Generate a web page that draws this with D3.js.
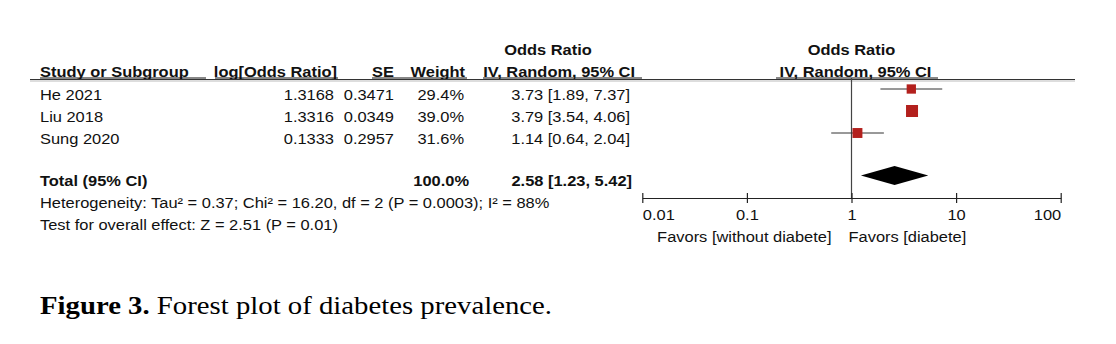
<!DOCTYPE html>
<html>
<head>
<meta charset="utf-8">
<script src="https://cdn.jsdelivr.net/npm/d3@7"></script>
<style>
  html, body { margin: 0; padding: 0; background: #fff; }
  svg { display: block; }
  .t { font-family: "Liberation Sans", Arial, sans-serif; font-size: 14.3px; fill: #111; }
  .b { font-weight: bold; }
  .cap { font-family: "Liberation Serif", "Times New Roman", serif; font-size: 25px; fill: #000; }
</style>
</head>
<body>
<svg id="chart" width="1116" height="344"></svg>
<script>
// Study-level data
const studies = ["He 2021", "Liu 2018", "Sung 2020"];
const logOR = [1.3168, 1.3316, 0.1333];
const seVals = [0.3471, 0.0349, 0.2957];
const weights = [29.4, 39.0, 31.6];
const oddsRatio = [3.73, 3.79, 1.14];
const ciLower = [1.89, 3.54, 0.64];
const ciUpper = [7.37, 4.06, 2.04];

// Pooled estimate
const totalLabel = "Total (95% CI)";
const totalWeight = 100.0;
const totalOR = 2.58;
const totalLower = 1.23;
const totalUpper = 5.42;
const heterogeneity = "Heterogeneity: Tau\u00B2 = 0.37; Chi\u00B2 = 16.20, df = 2 (P = 0.0003); I\u00B2 = 88%";
const overallEffect = "Test for overall effect: Z = 2.51 (P = 0.01)";

// Axis
const tickValues = [0.01, 0.1, 1, 10, 100];
const tickLabels = ["0.01", "0.1", "1", "10", "100"];
const favorsLeft = "Favors [without diabete]";
const favorsRight = "Favors [diabete]";

const SX = 1.15; // horizontal text stretch
const svg = d3.select("#chart");
const f2 = d3.format(".2f"), f4 = d3.format(".4f"), f1 = d3.format(".1f");

function txt(x, y, s, opts = {}) {
  return svg.append("text")
    .attr("class", "t" + (opts.bold ? " b" : ""))
    .attr("text-anchor", opts.anchor || "start")
    .attr("transform", `translate(${x},${y}) scale(${SX},1)`)
    .text(s);
}

// Scales
const x = d3.scaleLog().domain([0.01, 100]).range([642.3, 1060.7]);
const yRow = d3.scalePoint().domain(studies).range([100, 144]);
const markOffset = -11;
const sq = d3.scaleLinear().domain([29.4, 39.0]).range([9.3, 12]);

// Column right edges
const col = { study: 40, log: 334, se: 394, w: 464, or: 630 };

// Headers
txt(548, 55, "Odds Ratio", { bold: true, anchor: "middle" });
txt(col.study, 77, "Study or Subgroup", { bold: true });
txt(col.log + 3, 77, "log[Odds Ratio]", { bold: true, anchor: "end" });
txt(col.se, 77, "SE", { bold: true, anchor: "end" });
txt(col.w + 1, 77, "Weight", { bold: true, anchor: "end" });
txt(col.or + 5, 77, "IV, Random, 95% CI", { bold: true, anchor: "end" });
txt(x(1), 55, "Odds Ratio", { bold: true, anchor: "middle" });
txt(x(1) + 4, 77, "IV, Random, 95% CI", { bold: true, anchor: "middle" });

// Header underlines
const underlines = [[40, 206], [215, 338], [372, 467], [483, 642], [776, 938]];
svg.selectAll("line.ul").data(underlines).enter().append("line")
  .attr("class", "ul")
  .attr("x1", d => d[0]).attr("x2", d => d[1])
  .attr("y1", 78).attr("y2", 78)
  .attr("stroke", "#111").attr("stroke-width", 1);

// Header rule
svg.append("line").attr("x1", 30).attr("x2", 1075).attr("y1", 79.5).attr("y2", 79.5)
  .attr("stroke", "#333").attr("stroke-width", 1.2);
svg.append("line").attr("x1", 30).attr("x2", 1075).attr("y1", 81).attr("y2", 81)
  .attr("stroke", "#bbb").attr("stroke-width", 1);

// Study rows
studies.forEach((s, i) => {
  const y = yRow(s);
  txt(col.study, y, s);
  txt(col.log, y, f4(logOR[i]), { anchor: "end" });
  txt(col.se, y, f4(seVals[i]), { anchor: "end" });
  txt(col.w, y, f1(weights[i]) + "%", { anchor: "end" });
  txt(col.or, y, `${f2(oddsRatio[i])} [${f2(ciLower[i])}, ${f2(ciUpper[i])}]`, { anchor: "end" });
});

// Axis baseline position
const axisY = 198;

// Line of no effect
svg.append("line")
  .attr("x1", x(1)).attr("x2", x(1))
  .attr("y1", 78).attr("y2", axisY)
  .attr("stroke", "#444").attr("stroke-width", 1.2);

// Confidence intervals
svg.selectAll("line.ci").data(studies).enter().append("line")
  .attr("class", "ci")
  .attr("x1", (d, i) => x(ciLower[i])).attr("x2", (d, i) => x(ciUpper[i]))
  .attr("y1", d => yRow(d) + markOffset).attr("y2", d => yRow(d) + markOffset)
  .attr("stroke", "#333").attr("stroke-width", 1);

// Weighted squares
svg.selectAll("rect.sq").data(studies).enter().append("rect")
  .attr("class", "sq")
  .attr("x", (d, i) => x(oddsRatio[i]) - sq(weights[i]) / 2)
  .attr("y", (d, i) => yRow(d) + markOffset - sq(weights[i]) / 2)
  .attr("width", (d, i) => sq(weights[i]))
  .attr("height", (d, i) => sq(weights[i]))
  .attr("fill", "#b3201d");

// Total row
const totalY = 186;
txt(col.study, totalY, totalLabel, { bold: true });
txt(col.w + 5, totalY, f1(totalWeight) + "%", { bold: true, anchor: "end" });
txt(col.or + 2, totalY, `${f2(totalOR)} [${f2(totalLower)}, ${f2(totalUpper)}]`, { bold: true, anchor: "end" });
txt(col.study, 208, heterogeneity);
txt(col.study, 230, overallEffect);

// Pooled diamond
const dy = 175.5, dh = 9.5;
svg.append("path")
  .attr("d", `M${x(totalLower)},${dy} L${x(totalOR)},${dy - dh} L${x(totalUpper)},${dy} L${x(totalOR)},${dy + dh} Z`)
  .attr("fill", "#000");

// Axis
const axis = d3.axisBottom(x).tickValues(tickValues).tickFormat((d, i) => tickLabels[i])
  .tickSizeInner(5).tickSizeOuter(0);
const ag = svg.append("g").attr("transform", `translate(0,${axisY})`).call(axis);
ag.select(".domain").attr("stroke", "#222").attr("stroke-width", 1.2);
ag.selectAll(".tick line").attr("y1", -5).attr("stroke", "#222").attr("stroke-width", 1.2);
ag.selectAll(".tick text")
  .attr("class", "t")
  .attr("y", 22).attr("dy", null)
  .attr("transform", `scale(${SX},1)`)
  .attr("text-anchor", (d, i) => i === 0 ? "start" : (i === tickValues.length - 1 ? "end" : "middle"))
  .style("font-family", "'Liberation Sans', Arial, sans-serif").style("font-size", "14.3px").attr("fill", "#111");

// Direction labels
txt(x(1) - 20, 242, favorsLeft, { anchor: "end" });
txt(x(1) - 3, 242, favorsRight);

// Caption
const cap = svg.append("text").attr("class", "cap")
  .attr("transform", `translate(40,314) scale(${SX},1)`);
cap.append("tspan").attr("font-weight", "bold").text("Figure 3.");
cap.append("tspan").text(" Forest plot of diabetes prevalence.");
</script>
</body>
</html>
